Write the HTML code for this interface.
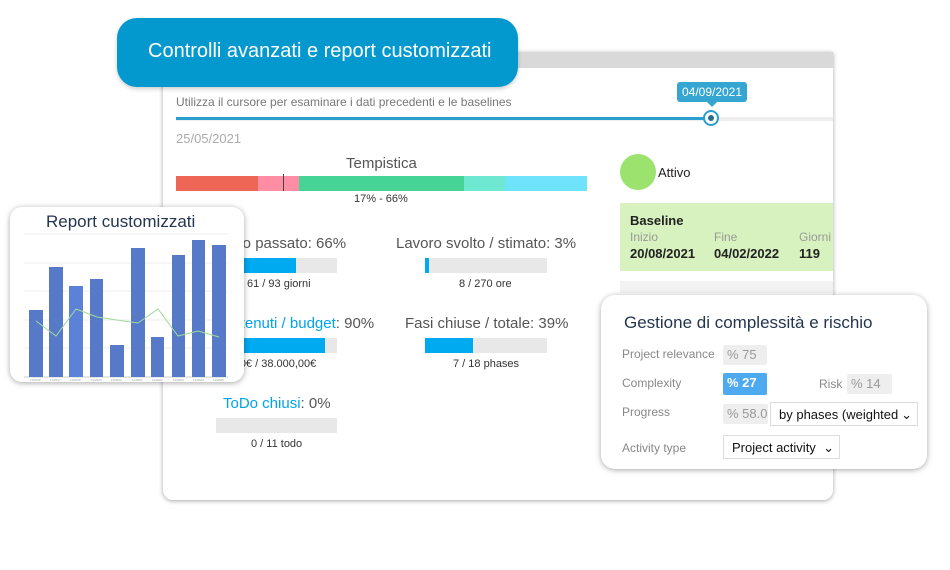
<!DOCTYPE html>
<html><head><meta charset="utf-8"><style>
body{margin:0;width:950px;height:570px;background:#fff;position:relative;overflow:hidden;font-family:"Liberation Sans",sans-serif}
.a{position:absolute}
.main{left:163px;top:52px;width:670px;height:448px;background:#fff;border-radius:0 0 10px 10px;box-shadow:0 1px 5px rgba(0,0,0,.35);overflow:hidden}
.t{position:absolute;white-space:nowrap}
.bar{position:absolute;height:15px;background:#e8e8e8}
.bar i{position:absolute;left:0;top:0;height:15px;background:#00aaf0}
.box{position:absolute;background:#eee;border-radius:2px;color:#999;font-size:13px;height:20px;line-height:20px;padding-left:4px}
</style></head><body>
<div class="a main">
 <div class="a" style="left:0;top:0;width:670px;height:16px;background:#d9d9d9"></div>
 <div class="t" style="left:13px;top:43px;font-size:12px;color:#777">Utilizza il cursore per esaminare i dati precedenti e le baselines</div>
 <div class="a" style="left:13px;top:65px;width:657px;height:4px;background:#eee"></div>
 <div class="a" style="left:13px;top:65px;width:536px;height:3px;background:#2a9fd0"></div>
 <div class="a" style="left:540px;top:58px;width:12px;height:12px;border:2px solid #2a9fd0;border-radius:50%;background:#fff"></div>
 <div class="a" style="left:545px;top:63px;width:6px;height:6px;border-radius:50%;background:#2a6f8a"></div>
 <div class="a" style="left:514px;top:30px;width:70px;height:20px;background:#35a6d2;border-radius:3px;color:#fff;font-size:12px;line-height:20px;text-align:center">04/09/2021</div>
 <div class="a" style="left:544px;top:50px;border:5px solid transparent;border-top-color:#35a6d2;width:0;height:0"></div>
 <div class="t" style="left:13px;top:79px;font-size:13px;color:#aaa">25/05/2021</div>
 <div class="t" style="left:183px;top:103px;font-size:15px;color:#555">Tempistica</div>
 <div class="a" style="left:13px;top:124px;width:82px;height:15px;background:#ee6655"></div>
 <div class="a" style="left:95px;top:124px;width:41px;height:15px;background:#ff8ea5"></div>
 <div class="a" style="left:120px;top:122px;width:1px;height:17px;background:#444"></div>
 <div class="a" style="left:136px;top:124px;width:165px;height:15px;background:#45d396"></div>
 <div class="a" style="left:301px;top:124px;width:41px;height:15px;background:#6fe8d2"></div>
 <div class="a" style="left:342px;top:124px;width:82px;height:15px;background:#6ee3fb"></div>
 <div class="t" style="left:191px;top:141px;font-size:11px;color:#333">17% - 66%</div>
 <div class="a" style="left:457px;top:102px;width:36px;height:36px;border-radius:50%;background:#9be26f"></div>
 <div class="t" style="left:495px;top:113px;font-size:13px;color:#222">Attivo</div>
 <div class="a" style="left:457px;top:151px;width:213px;height:68px;background:#d7f2bf"></div>
 <div class="t" style="left:467px;top:161px;font-size:13px;font-weight:bold;color:#222">Baseline</div>
 <div class="t" style="left:467px;top:178px;font-size:12px;color:#999">Inizio</div>
 <div class="t" style="left:551px;top:178px;font-size:12px;color:#999">Fine</div>
 <div class="t" style="left:636px;top:178px;font-size:12px;color:#999">Giorni</div>
 <div class="t" style="left:467px;top:194px;font-size:13px;font-weight:bold;color:#222">20/08/2021</div>
 <div class="t" style="left:551px;top:194px;font-size:13px;font-weight:bold;color:#222">04/02/2022</div>
 <div class="t" style="left:636px;top:194px;font-size:13px;font-weight:bold;color:#222">119</div>
 <div class="a" style="left:457px;top:229px;width:213px;height:12px;background:#f2f2f2"></div>
 <div class="t" style="left:43px;top:183px;font-size:15px;color:#555">Tempo passato: 66%</div>
 <div class="bar" style="left:53px;top:206px;width:121px"><i style="width:80px"></i></div>
 <div class="t" style="left:84px;top:226px;font-size:11px;color:#333">61 / 93 giorni</div>
 <div class="t" style="left:233px;top:183px;font-size:15px;color:#555">Lavoro svolto / stimato: 3%</div>
 <div class="bar" style="left:262px;top:206px;width:122px"><i style="width:4px"></i></div>
 <div class="t" style="left:296px;top:226px;font-size:11px;color:#333">8 / 270 ore</div>
 <div class="t" style="left:16px;top:263px;font-size:15px;color:#555"><span style="color:#00a4e8">Costi sostenuti / budget</span>: 90%</div>
 <div class="bar" style="left:53px;top:286px;width:121px"><i style="width:109px"></i></div>
 <div class="t" style="left:34px;top:306px;font-size:11px;color:#333">34.204,00€ / 38.000,00€</div>
 <div class="t" style="left:242px;top:263px;font-size:15px;color:#555">Fasi chiuse / totale: 39%</div>
 <div class="bar" style="left:262px;top:286px;width:122px"><i style="width:48px"></i></div>
 <div class="t" style="left:290px;top:306px;font-size:11px;color:#333">7 / 18 phases</div>
 <div class="t" style="left:60px;top:343px;font-size:15px;color:#555"><span style="color:#00a4e8">ToDo chiusi</span>: 0%</div>
 <div class="bar" style="left:53px;top:366px;width:121px"></div>
 <div class="t" style="left:88px;top:386px;font-size:11px;color:#333">0 / 11 todo</div>
</div>
<div class="a" style="left:117px;top:18px;width:401px;height:69px;background:#0399cf;border-radius:20px;box-shadow:0 2px 4px rgba(0,0,0,.2)"></div>
<div class="t" style="left:148px;top:40px;font-size:20px;color:#fff">Controlli avanzati e report customizzati</div>
<div class="a" style="left:10px;top:207px;width:234px;height:175px;background:#fff;border-radius:12px;box-shadow:0 1px 6px rgba(0,0,0,.35)"></div>
<div class="t" style="left:46px;top:212px;font-size:17px;color:#243550">Report customizzati</div>
<svg class="a" style="left:0;top:0" width="950" height="570">
 <g stroke="#eee" stroke-width="1">
  <line x1="24" y1="234" x2="228" y2="234"/><line x1="24" y1="263" x2="228" y2="263"/><line x1="24" y1="291" x2="228" y2="291"/><line x1="24" y1="320" x2="228" y2="320"/><line x1="24" y1="348" x2="228" y2="348"/><line x1="24" y1="377" x2="228" y2="377" stroke="#ccc"/>
 </g>
 <g fill="#5679c8">
  <rect x="29" y="310" width="14" height="67"/><rect x="49" y="267" width="14" height="110"/><rect x="69" y="286" width="14" height="91" fill="#5b82d6"/><rect x="90" y="279" width="13" height="98"/><rect x="110" y="345" width="14" height="32"/><rect x="131" y="248" width="14" height="129"/><rect x="151" y="337" width="13" height="40"/><rect x="172" y="255" width="13" height="122"/><rect x="192" y="240" width="13" height="137"/><rect x="212" y="245" width="14" height="132"/>
 </g>
 <polyline fill="none" stroke="#9fd99a" stroke-width="1" points="36,321 56,336 76,309 97,317 117,320 138,323 158,309 178,336 198,331 219,337"/>
 <g font-size="3" fill="#999" font-family="Liberation Sans"><text x="30" y="381">11/2016</text><text x="50" y="381">11/2017</text><text x="70" y="381">11/2018</text><text x="91" y="381">11/2019</text><text x="111" y="381">11/2020</text><text x="132" y="381">11/2021</text><text x="152" y="381">11/2022</text><text x="173" y="381">11/2023</text><text x="193" y="381">11/2024</text><text x="213" y="381">11/2025</text></g>
</svg>
<div class="a" style="left:601px;top:295px;width:326px;height:174px;background:#fff;border-radius:14px;box-shadow:0 1px 6px rgba(0,0,0,.35)"></div>
<div class="t" style="left:624px;top:313px;font-size:17px;color:#243550">Gestione di complessità e rischio</div>
<div class="t" style="left:622px;top:347px;font-size:12px;color:#888">Project relevance</div>
<div class="box" style="left:723px;top:345px;width:40px">% 75</div>
<div class="t" style="left:622px;top:376px;font-size:12px;color:#888">Complexity</div>
<div class="box" style="left:723px;top:373px;width:40px;height:22px;background:#4eaaf0;color:#fff;font-weight:bold">% 27</div>
<div class="t" style="left:819px;top:377px;font-size:12px;color:#888">Risk</div>
<div class="box" style="left:847px;top:374px;width:41px">% 14</div>
<div class="t" style="left:622px;top:405px;font-size:12px;color:#888">Progress</div>
<div class="box" style="left:723px;top:404px;width:41px">% 58.0</div>
<div class="a" style="left:770px;top:402px;width:148px;height:24px;border:1px solid #ddd;font-size:13px;line-height:24px;padding-left:8px;box-sizing:border-box;color:#111">by phases (weighted <span style="position:absolute;right:5px">⌄</span></div>
<div class="t" style="left:622px;top:441px;font-size:12px;color:#888">Activity type</div>
<div class="a" style="left:723px;top:435px;width:117px;height:24px;border:1px solid #ddd;font-size:13px;line-height:24px;padding-left:8px;box-sizing:border-box;color:#111">Project activity <span style="position:absolute;right:5px">⌄</span></div>
</body></html>
